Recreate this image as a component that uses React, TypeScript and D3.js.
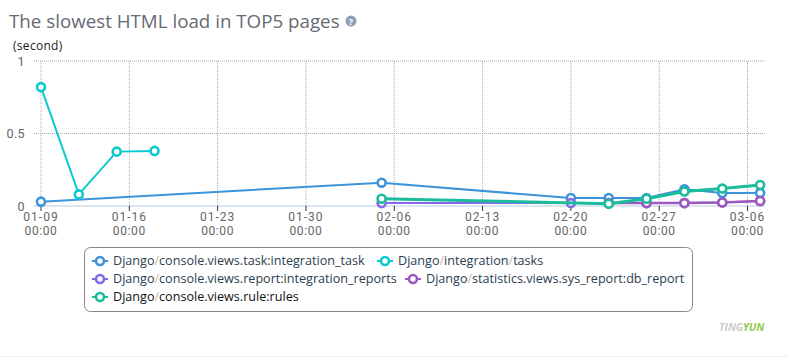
import React from "react";
import * as d3 from "d3";

const title = "The slowest HTML load in TOP5 pages";
const unit = "(second)";
const tickDays = [0, 7, 14, 21, 28, 35, 42, 49, 56];
const tickLabels = ["01-09", "01-16", "01-23", "01-30", "02-06", "02-13", "02-20", "02-27", "03-06"];
const yTicks = [0, 0.5, 1];

const taskDays = [0, 27, 42, 45, 48, 51, 54, 57];
const taskVals = [0.03, 0.16, 0.055, 0.055, 0.055, 0.115, 0.09, 0.09];
const tasksDays = [0, 3, 6, 9];
const tasksVals = [0.82, 0.08, 0.375, 0.38];
const reportDays = [27, 42, 45, 48, 51, 54, 57];
const reportVals = [0.02, 0.02, 0.02, 0.02, 0.02, 0.025, 0.035];
const dbDays = [45, 48, 51, 54, 57];
const dbVals = [0.02, 0.02, 0.02, 0.024, 0.035];
const rulesDays = [27, 45, 48, 51, 54, 57];
const rulesVals = [0.05, 0.016, 0.05, 0.1, 0.12, 0.145];

const series = [
  { name: "Django/console.views.task:integration_task", color: "#3c94db", days: taskDays, vals: taskVals, lx: 89, ly: 260, w: 2, text: "#2c3e50" },
  { name: "Django/integration/tasks", color: "#0cc9cf", days: tasksDays, vals: tasksVals, lx: 374, ly: 260, w: 2, text: "#2c3e50" },
  { name: "Django/console.views.report:integration_reports", color: "#8569ea", days: reportDays, vals: reportVals, lx: 89, ly: 278, w: 2, text: "#2c3e50" },
  { name: "Django/statistics.views.sys_report:db_report", color: "#9b59bf", days: dbDays, vals: dbVals, lx: 402, ly: 278, w: 2.5, text: "#2c3e50" },
  { name: "Django/console.views.rule:rules", color: "#1bbc9b", days: rulesDays, vals: rulesVals, lx: 89, ly: 296, w: 3, text: "#111" },
];

const font = "'Open Sans', sans-serif";
const tickFont = "Roboto, sans-serif";

export default function App() {
  const x = d3.scaleLinear().domain([0, 56]).range([41, 747.5]);
  const y = d3.scaleLinear().domain([0, 1]).range([206, 61]);
  const line = d3.line<[number, number]>().x((d) => x(d[0])).y((d) => y(d[1]));
  return (
    <svg width={788} height={357} style={{ position: "absolute", left: 0, top: 0, fontFamily: font }}>
      <text x={9} y={28} fontSize={18.75} fill="#666a75">{title}</text>
      <circle cx={351} cy={21} r={5.5} fill="#8f9fb8" />
      <text x={351} y={24.5} fontSize={9} fontWeight={700} fill="#fff" textAnchor="middle">?</text>
      <text x={13} y={50} fontSize={12} letterSpacing={0.3} fill="#222">{unit}</text>

      {yTicks.map((t) => (
        <g key={t}>
          <line x1={34} x2={765} y1={y(t)} y2={y(t)} stroke={t === 0 ? "#b8cbe0" : "#aaa"} strokeWidth={1} strokeDasharray={t === 0 ? undefined : "1 1"} />
          <text x={25} y={y(t) + 4.5} fontSize={12.5} letterSpacing={0.4} fontFamily={tickFont} fill="#666" textAnchor="end">{t}</text>
        </g>
      ))}
      {tickDays.map((d, i) => (
        <g key={d}>
          <line x1={x(d)} x2={x(d)} y1={61} y2={206} stroke="#aaa" strokeDasharray="1 1" />
          <line x1={x(d)} x2={x(d)} y1={206} y2={211} stroke="#333" />
          <text x={x(d)} y={220.5} fontSize={12} letterSpacing={1} fontFamily={tickFont} fill="#666" textAnchor="middle">{tickLabels[i]}</text>
          <text x={x(d)} y={234.5} fontSize={12} letterSpacing={0.6} fontFamily={tickFont} fill="#666" textAnchor="middle">00:00</text>
        </g>
      ))}

      {series.map((s) => (
        <g key={s.name}>
          <path d={line(s.days.map((d, i) => [d, s.vals[i]] as [number, number])) ?? ""} fill="none" stroke={s.color} strokeWidth={s.w} />
          {s.days.map((d, i) => (
            <circle key={d} cx={x(d)} cy={y(s.vals[i])} r={4} fill="#fff" stroke={s.color} strokeWidth={2.6} />
          ))}
        </g>
      ))}

      <rect x={84.5} y={247.5} width={608} height={64} rx={6} fill="#fff" stroke="#888" />
      {series.map((s) => (
        <g key={s.name}>
          <line x1={s.lx + 3} x2={s.lx + 19} y1={s.ly + 1} y2={s.ly + 1} stroke={s.color} strokeWidth={2} />
          <circle cx={s.lx + 11} cy={s.ly + 1} r={4} fill="#fff" stroke={s.color} strokeWidth={2.6} />
          <text x={s.lx + 24} y={s.ly + 5} fontSize={12.6} fill={s.text}>
            {s.name.split("/").map((part, i) => (
              <React.Fragment key={i}>
                {i > 0 && <tspan fill="#c4b6a6">/</tspan>}
                {part}
              </React.Fragment>
            ))}
          </text>
        </g>
      ))}

      <text x={719} y={331} fontSize={10.5} fontWeight={700} fontStyle="italic" fill="#ccc">TING<tspan fill="#8ccc4a">YUN</tspan></text>
      <line x1={0} x2={788} y1={356.5} y2={356.5} stroke="#eee" />
    </svg>
  );
}
